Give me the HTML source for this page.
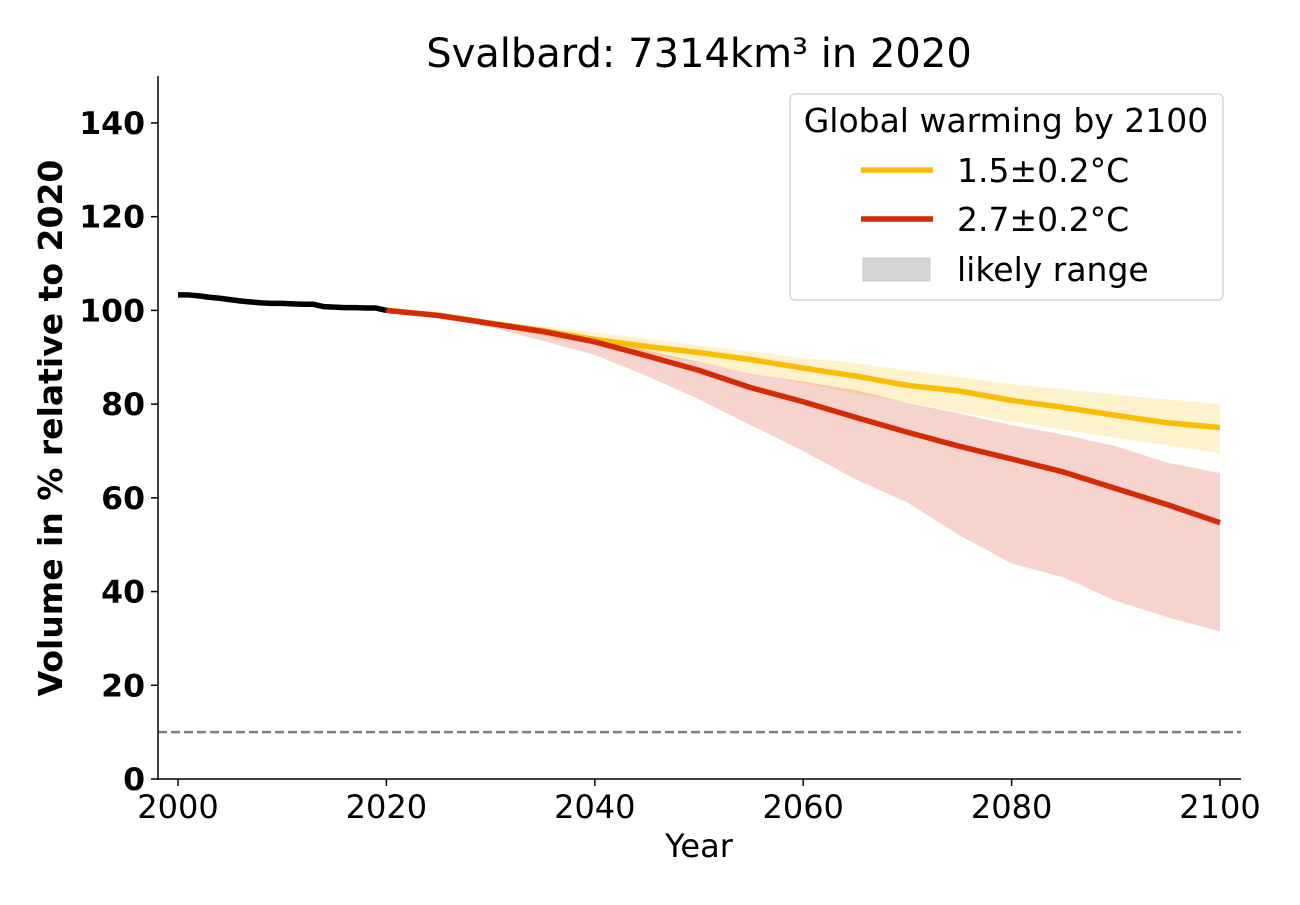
<!DOCTYPE html>
<html><head><meta charset="utf-8"><style>
body{margin:0;background:#fff;width:1300px;height:900px;overflow:hidden}
svg{font-family:"DejaVu Sans","Liberation Sans",sans-serif}
</style></head><body>
<svg id="chart" width="1300" height="900">
<text x="699" y="67" font-size="40" text-anchor="middle">Svalbard: 7314km³ in 2020</text>
<g id="bands"></g><g id="lines"></g><g id="axes"></g>
<text x="699" y="857" font-size="32" text-anchor="middle">Year</text>
<text transform="translate(62,428) rotate(-90)" font-size="33" font-weight="bold" text-anchor="middle">Volume in % relative to 2020</text>
<g>
<rect x="790" y="94" width="433" height="206" rx="5" fill="#fff" stroke="#d6d6d6" stroke-width="1.5"/>
<text x="1006" y="132" font-size="33" text-anchor="middle">Global warming by 2100</text>
<line x1="861" y1="170" x2="933" y2="170" stroke="#fbbc05" stroke-width="5.5"/>
<text x="957" y="182" font-size="33">1.5±0.2°C</text>
<line x1="861" y1="219" x2="933" y2="219" stroke="#d42a05" stroke-width="5.5"/>
<text x="957" y="231" font-size="33">2.7±0.2°C</text>
<rect x="863" y="258" width="67" height="23" fill="#d6d6d6" stroke="#c8c8c8"/>
<text x="957" y="281" font-size="33">likely range</text>
</g>
</svg>
<script>
const histYears=[2000,2001,2002,2003,2004,2005,2006,2007,2008,2009,2010,2011,2012,2013,2014,2015,2016,2017,2018,2019,2020];
const histVals=[103.3,103.3,103.1,102.8,102.6,102.3,102.0,101.8,101.6,101.5,101.5,101.4,101.3,101.3,100.8,100.7,100.6,100.6,100.5,100.5,100.0];
const projYears=[2020,2025,2030,2035,2040,2045,2050,2055,2060,2065,2070,2075,2080,2085,2090,2095,2100];
const low15=[100,99.0,97.3,95.7,93.8,92.3,91.0,89.5,87.7,86.0,84.0,82.8,80.8,79.3,77.6,76.0,75.0];
const low15Up=[100,99.3,97.8,96.5,95.3,94.0,92.5,91.2,89.8,88.8,87.2,85.8,84.3,83.2,82.0,81.0,80.0];
const low15Lo=[100,98.8,96.7,94.6,92.6,90.6,88.8,86.6,84.5,82.3,80.4,78.3,76.3,74.5,72.8,71.2,69.5];
const high27=[100,98.9,97.2,95.5,93.3,90.3,87.2,83.5,80.5,77.2,74.0,71.0,68.3,65.5,62.0,58.5,54.7];
const high27Up=[100,99.0,97.4,96.0,94.0,91.5,89.0,86.5,84.8,83.0,80.3,78.0,75.5,73.5,71.0,67.5,65.3];
const high27Lo=[100,98.7,96.4,93.5,90.5,86.0,81.0,75.5,70.0,64.0,59.0,52.0,46.0,43.0,38.0,34.5,31.5];
const xTicks=[2000,2020,2040,2060,2080,2100];
const yTicks=[0,20,40,60,80,100,120,140];
const thresholdVal=10;

const X=y=>178+(y-2000)*10.42;
const Y=v=>779-v*4.686;
const NS='http://www.w3.org/2000/svg';
function mk(tag,attrs,parent){const e=document.createElementNS(NS,tag);for(const k in attrs)e.setAttribute(k,attrs[k]);parent.appendChild(e);return e;}
const bands=document.getElementById('bands'),lines=document.getElementById('lines'),axes=document.getElementById('axes');
function band(up,lo,fill,name){
  let d='M'+projYears.map((y,i)=>X(y)+','+Y(up[i])).join('L');
  for(let i=projYears.length-1;i>=0;i--)d+='L'+X(projYears[i])+','+Y(lo[i]);
  const p=mk('path',{d:d+'Z',fill:fill},bands);
  
  
}
band(low15Up,low15Lo,'rgba(251,188,5,0.2)','band-1p5');
band(high27Up,high27Lo,'rgba(212,42,5,0.2)','band-2p7');
function line(xs,vs,col,name){
  const p=mk('polyline',{points:xs.map((y,i)=>X(y)+','+Y(vs[i])).join(' '),fill:'none',stroke:col,'stroke-width':5.5,'stroke-linejoin':'round'},lines);
  
  
}
line(projYears,low15,'#fbbc05','line-1p5');
line(projYears,high27,'#d42a05','line-2p7');
line(histYears,histVals,'#000','line-historical');
const th=mk('line',{x1:158,x2:1241,y1:Y(thresholdVal),y2:Y(thresholdVal),stroke:'#808080','stroke-width':2.5,'stroke-dasharray':'9,4'},lines);


const sp1=mk('line',{x1:158,x2:158,y1:76,y2:780,stroke:'#000','stroke-width':1.5},axes);


const sp2=mk('line',{x1:157,x2:1241,y1:779,y2:779,stroke:'#000','stroke-width':1.5},axes);


xTicks.forEach(t=>{
  mk('line',{x1:X(t),x2:X(t),y1:779,y2:786,stroke:'#000','stroke-width':1.5},axes);
  const tx=mk('text',{x:X(t),y:818,'font-size':32,'text-anchor':'middle'},axes);
  tx.textContent=t;
  
  
});
yTicks.forEach(t=>{
  mk('line',{x1:151,x2:158,y1:Y(t),y2:Y(t),stroke:'#000','stroke-width':1.5},axes);
  const tx=mk('text',{x:145,y:Y(t)+11,'font-size':31.5,'font-weight':'bold','text-anchor':'end'},axes);
  tx.textContent=t;
  
  
});
</script>
</body></html>
